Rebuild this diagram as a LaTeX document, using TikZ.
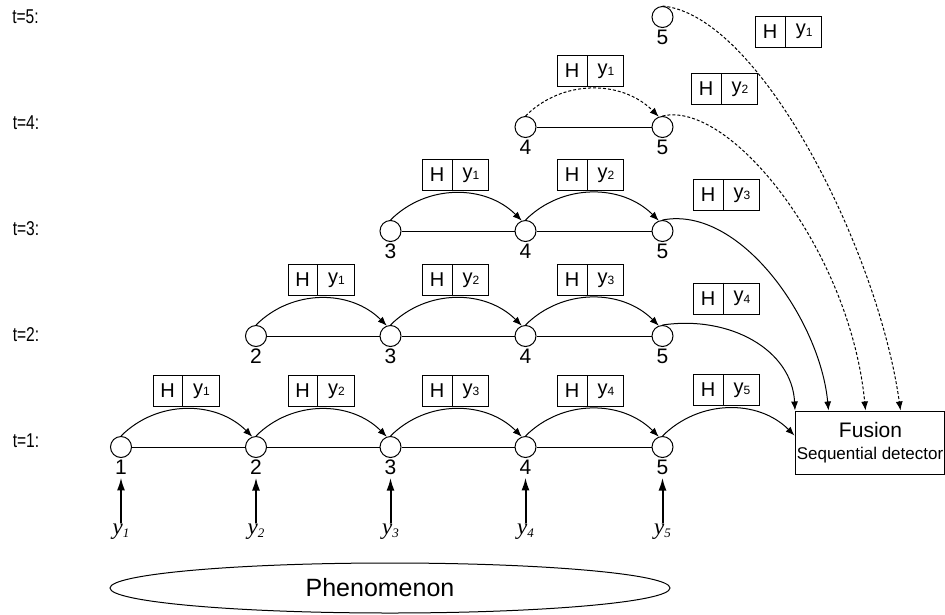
\documentclass[tikz,border=0pt]{standalone}
\usepackage{fontspec}
\usepackage{graphicx}
\setmainfont{Liberation Sans}
\newfontfamily\obsfont{Liberation Serif}
\usetikzlibrary{arrows.meta,shapes.geometric}

\tikzset{
  state/.style={circle,draw,line width=1pt,minimum size=21pt,inner sep=0pt,fill=white},
  num/.style={inner sep=0pt,font=\fontsize{21}{21}\selectfont},
  link/.style={line width=1pt},
  flow/.style={line width=1pt,-{Latex[length=9pt,width=7pt]}},
  flowdash/.style={flow,dash pattern=on 3pt off 2pt},
  obs/.style={line width=2pt,-{Latex[length=13pt,width=8pt]}},
  hyframe/.style={draw,line width=1pt,minimum width=66pt,minimum height=31pt,inner sep=0pt},
  hytext/.style={inner sep=0pt,font=\fontsize{20}{20}\selectfont},
  tlabel/.style={inner sep=0pt,font=\fontsize{20}{20}\selectfont},
  obslbl/.style={inner sep=0pt,font=\obsfont\itshape\fontsize{23}{23}\selectfont},
}

% two-cell "H | y_k" message box: name, x, y, index
\newcommand\hybox[4]{%
  \node[hyframe] (#1) at (#2,#3) {};
  \draw[link] ([xshift=30pt]#1.north west) -- ([xshift=30pt]#1.south west);
  \node[hytext] (#1h) at ([xshift=15pt]#1.west) {H};
  \node[hytext] (#1y) at ([xshift=-18pt]#1.east) {y\raisebox{-1.5pt}{\fontsize{12}{12}\selectfont #4}};
}

\begin{document}
\begin{tikzpicture}[x=1pt,y=-1pt]
\useasboundingbox (0,0) rectangle (945,614);

% time labels
\node[tlabel] (t5) at (25.5,17)  {\scalebox{0.78}[1]{t=5:}};
\node[tlabel] (t4) at (26,123)   {\scalebox{0.78}[1]{t=4:}};
\node[tlabel] (t3) at (26,229)   {\scalebox{0.78}[1]{t=3:}};
\node[tlabel] (t2) at (26,335)   {\scalebox{0.78}[1]{t=2:}};
\node[tlabel] (t1) at (26,441)   {\scalebox{0.78}[1]{t=1:}};

% sensor states, one row per time step
\foreach \t/\yy in {1/447,2/336,3/231,4/127,5/17}{
  \foreach \i/\xx in {1/121,2/256,3/390.5,4/525.5,5/662.5}{
    \ifnum\i<\t\else
      \node[state] (n\t\i) at (\xx,\yy) {};
      \node[num] (l\t\i) at (\xx,\yy+20) {\i};
    \fi
  }
}

% chains, forwarded messages and their boxes
\foreach \t/\yy in {1/447,2/336,3/231,4/127}{
  \foreach \i/\xx in {1/121,2/256,3/390.5,4/525.5}{
    \ifnum\i<\t\else
      \pgfmathtruncatemacro\j{\i+1}
      \pgfmathtruncatemacro\k{\i-\t+1}
      \draw[link] (n\t\i) -- (n\t\j);
      \ifnum\t=4
        \draw[flowdash] (n\t\i.north) to[out=45,in=135] (n\t\j.110);
      \else
        \draw[flow] (n\t\i.north) to[out=45,in=135] (n\t\j.110);
      \fi
      \hybox{hb\t\i}{\xx+65}{\yy-56}{\k}
    \fi
  }
}

% fusion centre
\node[draw,line width=1pt,minimum width=149pt,minimum height=63pt,inner sep=0pt] (fus) at (869.5,442.5) {};
\node[inner sep=0pt,font=\fontsize{21}{21}\selectfont] (fust) at (870.5,430) {Fusion};
\node[inner sep=0pt,font=\fontsize{17}{17}\selectfont] (fuss) at (870,455) {Sequential detector};

% messages sent from the last sensor to the fusion centre
\hybox{r1}{726.5}{390}{5}
\hybox{r2}{726.5}{298.5}{4}
\hybox{r3}{726.5}{195}{3}
\hybox{r4}{724.5}{89}{2}
\hybox{r5}{788.7}{31.7}{1}

\draw[flow] (n15.north) to[out=45,in=135] ([yshift=7pt]fus.west);
\draw[flow] (n25.north) .. controls (730,315) and (792,350) .. ([xshift=0.5pt]fus.north west);
\draw[flow] (n35.north) .. controls (740,205) and (820,320) .. ([xshift=34pt]fus.north west);
\draw[flowdash] (n45.north) .. controls (730,100) and (850,250) .. ([xshift=71pt]fus.north west);
\draw[flowdash] (n55.north) .. controls (760,15) and (878,250) .. ([xshift=106pt]fus.north west);

% observations
\foreach \i/\xx in {1/121,2/256,3/390.5,4/525.5,5/662.5}{
  \node[obslbl] (y\i) at (\xx,532) {y\raisebox{-3pt}{\fontsize{13}{13}\selectfont \i}};
  \draw[obs,shorten <=1pt,shorten >=3pt] (y\i) -- (l1\i);
}

% observed phenomenon
\node[ellipse,draw,line width=1pt,minimum width=560pt,minimum height=50pt,inner sep=0pt] (phen) at (390,588) {};
\node[inner sep=0pt,font=\fontsize{25}{25}\selectfont] (phent) at (380,588) {Phenomenon};
\end{tikzpicture}
\end{document}
